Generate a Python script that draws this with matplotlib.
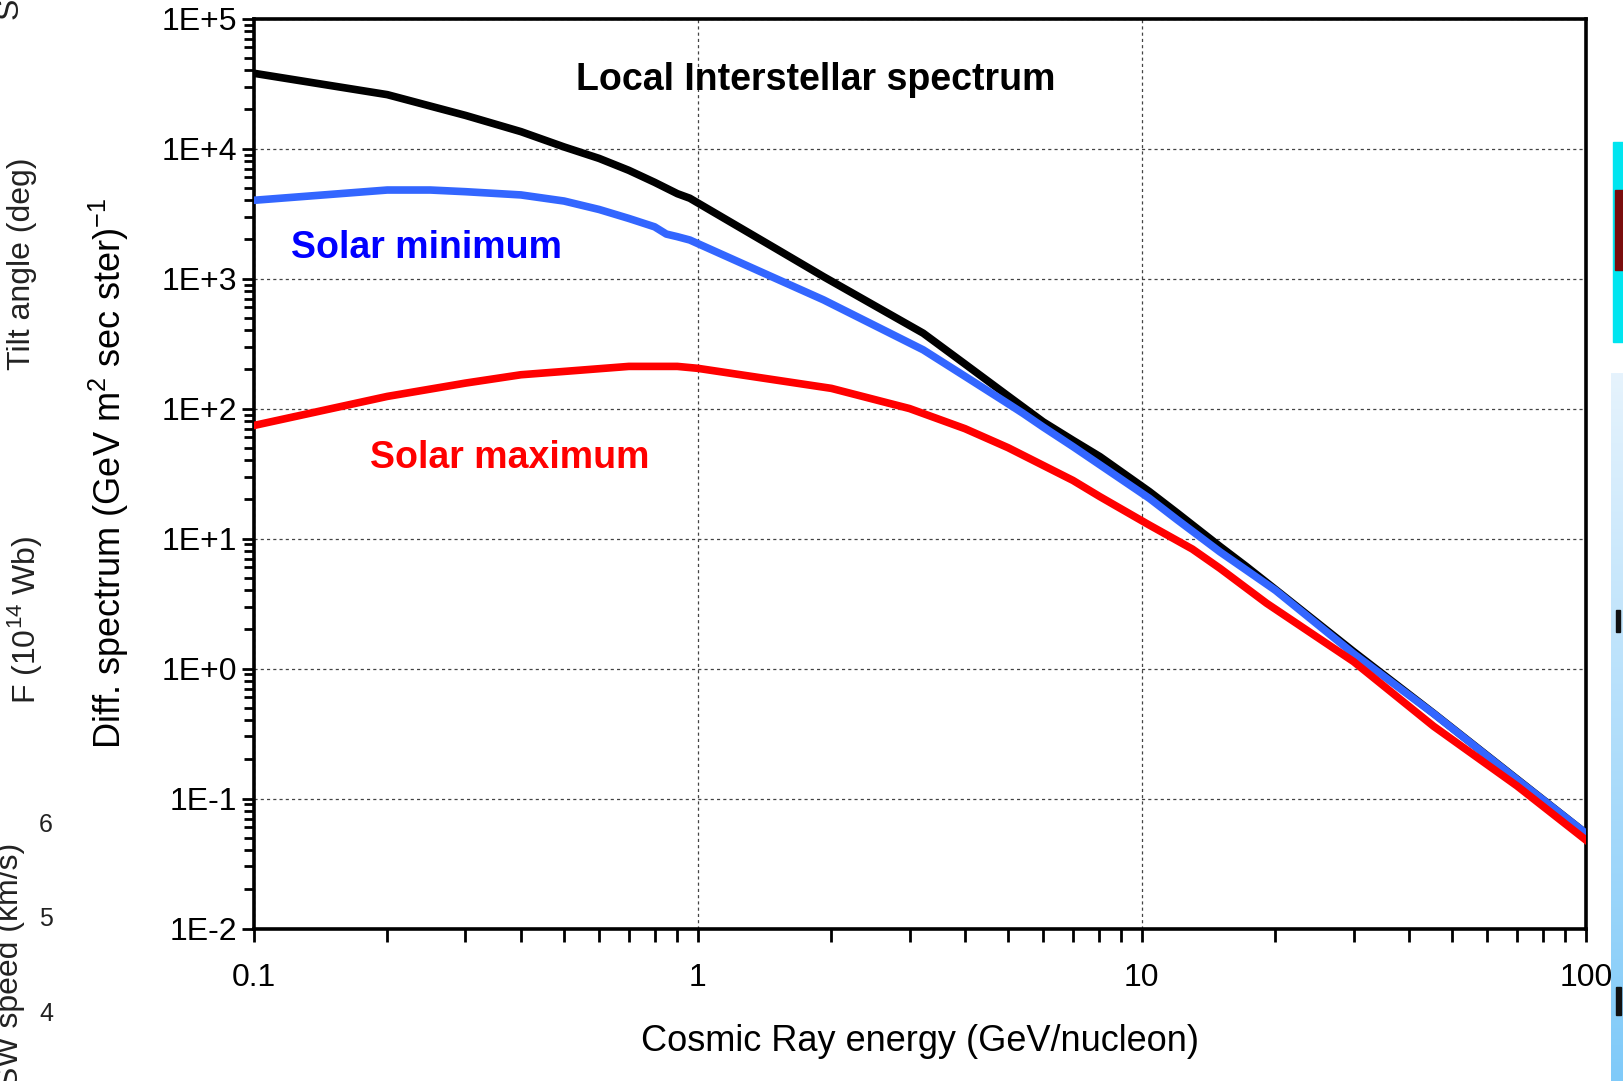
import matplotlib
matplotlib.use("Agg")
import matplotlib.pyplot as plt
from matplotlib.ticker import FixedLocator, LogLocator, NullFormatter, FixedFormatter
from matplotlib.patches import Rectangle
import numpy as np

plt.rcParams['font.family'] = ['Liberation Sans', 'DejaVu Sans']
plt.rcParams['mathtext.fontset'] = 'custom'
plt.rcParams['mathtext.rm'] = 'Liberation Sans'

# Energy grid (GeV/nucleon) and differential spectra
energy_lis = [0.1, 0.2, 0.3, 0.4, 0.5, 0.6, 0.7, 0.8, 0.9, 0.96, 1.5, 1.92, 3.22,
              4.0, 5.0, 5.4, 6.0, 7.0, 8.05, 10.4, 12.0, 15.0, 17.2, 20.0, 30.0,
              45.4, 70.0, 100.0]
flux_lis = [3.8e4, 2.6e4, 1.8e4, 1.35e4, 1.03e4, 8.4e3, 6.8e3, 5.5e3, 4.5e3, 4.15e3,
            1.7e3, 1.035e3, 380, 220, 125, 103, 79, 57, 42.7, 23, 15.8, 8.7, 6.1,
            4.06, 1.35, 0.453, 0.141, 0.054]

energy_min = [0.1, 0.2, 0.25, 0.3, 0.4, 0.5, 0.6, 0.7, 0.8, 0.85, 0.9, 0.96, 1.5,
              1.92, 3.22, 4.0, 5.0, 5.4, 6.0, 7.0, 10.4, 12.0, 15.0, 20.0, 30.0,
              45.4, 70.0, 100.0]
flux_min = [4.0e3, 4.8e3, 4.8e3, 4.66e3, 4.4e3, 3.95e3, 3.4e3, 2.9e3, 2.5e3, 2.2e3,
            2.1e3, 1.98e3, 1.0e3, 686, 283, 177, 109, 92, 72, 51, 20.4, 14.0, 7.9,
            4.0, 1.3, 0.45, 0.14, 0.054]

energy_max = [0.1, 0.2, 0.3, 0.4, 0.5, 0.7, 0.9, 1.0, 2.0, 3.0, 4.0, 5.0, 7.0, 8.05,
              10.4, 13.0, 15.0, 19.1, 30.0, 45.4, 70.0, 100.0]
flux_max = [74, 124, 157, 182, 193, 211, 211, 204, 143, 100, 70, 50, 28, 21, 12.7,
            8.3, 5.9, 3.18, 1.13, 0.36, 0.125, 0.048]

x_ticks = [0.1, 1, 10, 100]
x_tick_labels = ['0.1', '1', '10', '100']
y_ticks = [1e-2, 1e-1, 1e0, 1e1, 1e2, 1e3, 1e4, 1e5]
y_tick_labels = ['1E-2', '1E-1', '1E+0', '1E+1', '1E+2', '1E+3', '1E+4', '1E+5']

W, H = 1623, 1081
fig = plt.figure(figsize=(W / 100, H / 100), dpi=100)
fig.patch.set_facecolor('white')

# Neighbouring panel fragments at the page edges
grad = np.linspace(0, 1, 256).reshape(-1, 1)
gax = fig.add_axes([1611 / W, 0, 1 - 1611 / W, 1 - 373 / H])
gax.imshow(grad, aspect='auto', cmap=matplotlib.colors.LinearSegmentedColormap.from_list(
    'edge', ['#e6f3fd', '#7fcaf9']), extent=[0, 1, 0, 1])
gax.axis('off')
fig.add_artist(Rectangle((1613 / W, 1 - 342 / H), 1 - 1613 / W, 200 / H,
                         transform=fig.transFigure, color='#00e5f0', zorder=1))
fig.add_artist(Rectangle((1615 / W, 1 - 270 / H), 1 - 1615 / W, 80 / H,
                         transform=fig.transFigure, color='#7a0d0d', zorder=2))
fig.add_artist(Rectangle((1616 / W, 1 - 632 / H), 4 / W, 22 / H,
                         transform=fig.transFigure, color='#111111', zorder=3))
fig.add_artist(Rectangle((1616 / W, 1 - 1015 / H), 5 / W, 28 / H,
                         transform=fig.transFigure, color='#111111', zorder=3))

edge_kw = dict(color='#222222', fontsize=23, rotation=90, ha='center', va='center')
fig.text(22 / W, 1 - 264 / H, 'Tilt angle (deg)', **edge_kw)
fig.text(24 / W, 1 - 620 / H, r'F (10$^{14}$ Wb)', **edge_kw)
fig.text(10 / W, 1 - 965 / H, 'SW speed (km/s)', **edge_kw)
fig.text(10 / W, 1 - 8 / H, 'S', **edge_kw)
for lbl, yy in [('6', 825), ('5', 919), ('4', 1014)]:
    fig.text(46 / W, 1 - yy / H, lbl, color='#222222', fontsize=18,
             ha='center', va='center')

ax = fig.add_axes([253.6 / W, 1 - 928.5 / H, (1585.8 - 253.6) / W, (928.5 - 18.6) / H])
ax.set_xscale('log')
ax.set_yscale('log')
ax.set_xlim(0.1, 100)
ax.set_ylim(1e-2, 1e5)

ax.plot(energy_lis, flux_lis, color='black', lw=5.5, solid_joinstyle='round', zorder=3)
ax.plot(energy_min, flux_min, color='#3366ff', lw=5.5, solid_joinstyle='round', zorder=4)
ax.plot(energy_max, flux_max, color='#ff0000', lw=5.5, solid_joinstyle='round', zorder=5)

ax.xaxis.set_major_locator(FixedLocator(x_ticks))
ax.xaxis.set_major_formatter(FixedFormatter(x_tick_labels))
ax.xaxis.set_minor_locator(LogLocator(base=10, subs=np.arange(2, 10), numticks=20))
ax.xaxis.set_minor_formatter(NullFormatter())
ax.yaxis.set_major_locator(FixedLocator(y_ticks))
ax.yaxis.set_major_formatter(FixedFormatter(y_tick_labels))
ax.yaxis.set_minor_locator(LogLocator(base=10, subs=np.arange(2, 10), numticks=20))
ax.yaxis.set_minor_formatter(NullFormatter())

ax.tick_params(which='major', direction='out', length=9, width=2, labelsize=23,
               colors='black')
ax.tick_params(which='minor', direction='out', length=7, width=2)
ax.tick_params(axis='x', which='both', length=9)
ax.tick_params(axis='x', which='major', pad=16)
ax.tick_params(axis='y', which='major', pad=3)
for s in ax.spines.values():
    s.set_linewidth(2.6)

ax.grid(True, which='major', color='#444444', linestyle=(0, (2.5, 2.5)), lw=0.9)
ax.set_axisbelow(True)

ax.set_xlabel('Cosmic Ray energy (GeV/nucleon)', fontsize=26, labelpad=22)
ax.set_ylabel(r'Diff. spectrum (GeV m$^{2}$ sec ster)$^{-1}$', fontsize=26, labelpad=22)

ax.text(1.844, 3.39e4, 'Local Interstellar spectrum', fontsize=27, fontweight='bold',
        color='black', ha='center', va='center')
ax.text(0.245, 1.71e3, 'Solar minimum', fontsize=27, fontweight='bold',
        color='#0000ff', ha='center', va='center')
ax.text(0.378, 41.3, 'Solar maximum', fontsize=27, fontweight='bold',
        color='#ff0000', ha='center', va='center')

fig.savefig('out.png', dpi=100)
